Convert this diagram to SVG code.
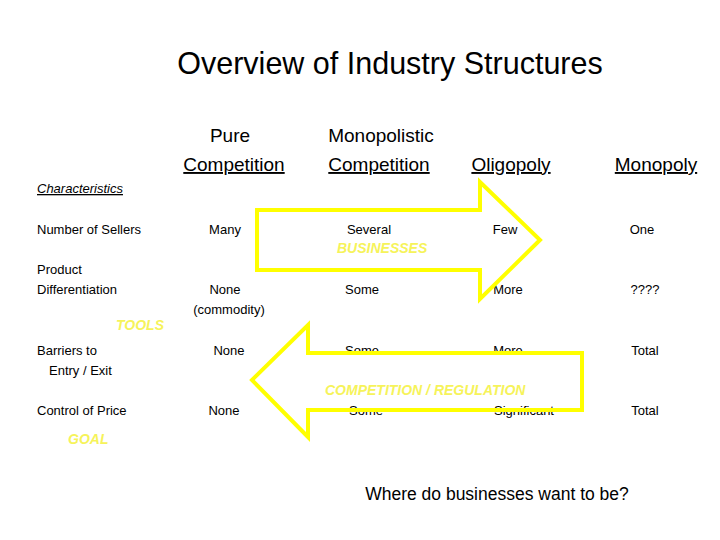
<svg xmlns="http://www.w3.org/2000/svg" width="720" height="540" viewBox="0 0 720 540">
<style>
text{font-family:"Liberation Sans",Arial,sans-serif;fill:#000}
.h{font-size:19px;text-anchor:middle}
.c{font-size:13px}
.m{font-size:13px;text-anchor:middle}
.y{font-size:14px;font-weight:bold;font-style:italic;fill:#f6f35a}
.ar{fill:none;stroke:#ffff00;stroke-width:4;stroke-linejoin:miter}
</style>
<rect width="720" height="540" fill="#fff"/>
<text x="390" y="74" font-size="30.5" text-anchor="middle">Overview of Industry Structures</text>
<g id="headers">
<text class="h" x="230" y="142">Pure</text>
<text class="h" x="234" y="171" text-decoration="underline">Competition</text>
<text class="h" x="381" y="142">Monopolistic</text>
<text class="h" x="379" y="171" text-decoration="underline">Competition</text>
<text class="h" x="511" y="171" text-decoration="underline">Oligopoly</text>
<text class="h" x="656" y="171" text-decoration="underline">Monopoly</text>
</g>
<g id="labels">
<text class="c" x="37" y="193" font-style="italic" text-decoration="underline">Characteristics</text>
<text class="c" x="37" y="234">Number of Sellers</text>
<text class="c" x="37" y="274">Product</text>
<text class="c" x="37" y="294">Differentiation</text>
<text class="c" x="37" y="355">Barriers to</text>
<text class="c" x="49" y="375">Entry / Exit</text>
<text class="c" x="37" y="415">Control of Price</text>
</g>
<g id="cells">
<text class="m" x="225" y="234">Many</text>
<text class="m" x="369" y="234">Several</text>
<text class="m" x="505" y="234">Few</text>
<text class="m" x="642" y="234">One</text>
<text class="m" x="225" y="294">None</text>
<text class="m" x="229" y="314">(commodity)</text>
<text class="m" x="362" y="294">Some</text>
<text class="m" x="508" y="294">More</text>
<text class="m" x="645" y="294">????</text>
<text class="m" x="229" y="355">None</text>
<text class="m" x="362" y="355">Some</text>
<text class="m" x="508" y="355">More</text>
<text class="m" x="645" y="355">Total</text>
<text class="m" x="224" y="415">None</text>
<text class="m" x="366" y="415">Some</text>
<text class="m" x="524" y="415">Significant</text>
<text class="m" x="645" y="415">Total</text>
</g>
<g id="connectors">
<path class="ar" d="M257,210 H480 V182 L540,240 L480,299 V270 H257 Z"/>
<path class="ar" d="M582,353 H308 V325 L252,380 L308,437 V410 H582 Z"/>
</g>
<text class="y" x="337" y="253">BUSINESSES</text>
<text class="y" x="325" y="395">COMPETITION / REGULATION</text>
<text class="y" x="116" y="330" font-size="15">TOOLS</text>
<text class="y" x="68" y="444" font-size="15">GOAL</text>
<text x="497" y="500" font-size="17.5" text-anchor="middle">Where do businesses want to be?</text>
</svg>
